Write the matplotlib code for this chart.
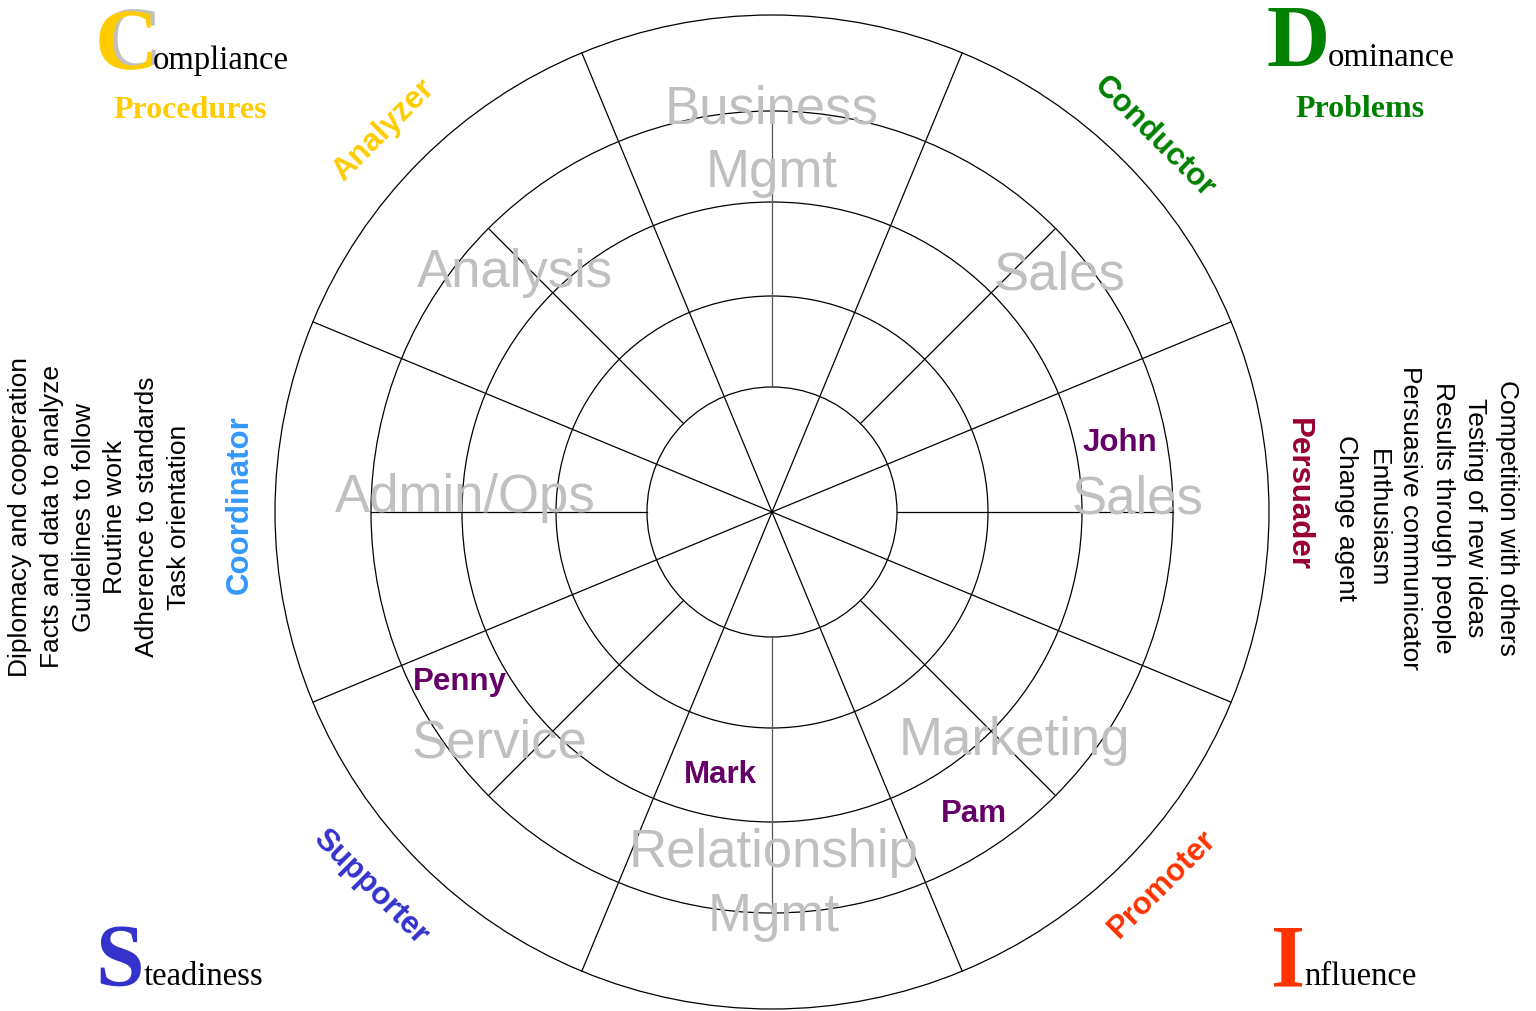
import numpy as np
import matplotlib
matplotlib.use("Agg")
import matplotlib.pyplot as plt
import matplotlib.patheffects as pe
from matplotlib.patches import Circle

# wheel data
ring_radii = [125, 216, 310, 401, 497]
segment_labels = ["Sales", "Sales", "Business\nMgmt", "Analysis", "Admin/Ops",
                  "Service", "Relationship\nMgmt", "Marketing"]
people = ["John", "Penny", "Mark", "Pam"]
styles = ["Analyzer", "Conductor", "Persuader", "Promoter", "Supporter", "Coordinator"]
style_colors = ["#FFCC00", "#008000", "#990033", "#FF3300", "#3333CC", "#3399FF"]
corner_letters = ["C", "D", "S", "I"]
corner_rest = ["ompliance", "ominance", "teadiness", "nfluence"]
corner_colors = ["#FFCC00", "#008000", "#3333CC", "#FF3300"]
corner_sub = ["Procedures", "Problems"]
left_traits = ["Diplomacy and cooperation", "Facts and data to analyze", "Guidelines to follow",
               "Routine work", "Adherence to standards", "Task orientation"]
right_traits = ["Competition with others", "Testing of new ideas", "Results through people",
                "Persuasive communicator", "Enthusiasm", "Change agent"]

# layout (pixels relative to wheel centre, y up)
seg_pos = [(288, 222), (366, -1), (0, 389), (-257, 225), (-307, 0),
           (-272, -246), (2, -355), (242, -243)]
people_pos = [(348, 61), (-312, -178), (-52, -271), (202, -310)]
style_pos = [(-388, 382), (382, 375), (526, 18), (390, -372), (-402, -375), (-532, 7)]
style_rot = [45, -45, -90, 45, -45, 90]
corner_pos = [(-677, 443), (494, 446), (-677, -473), (499, -473)]
corner_rest_x = [-619, 556, -628, 532]
sub_pos = [(-582, 394), (588, 395)]

CX, CY = 772, 512
W, H = 1536, 1011
fig = plt.figure(figsize=(W / 100, H / 100), dpi=100)
ax = fig.add_axes([0, 0, 1, 1])
ax.set_xlim(-CX, W - CX)
ax.set_ylim(CY - H, CY)
ax.axis("off")

sans = "Liberation Sans"
serif = "Liberation Serif"

for r in ring_radii:
    ax.add_patch(Circle((0, 0), r, fill=False, lw=0.9, ec="black"))

# long spokes between segments
for k in range(8):
    a = np.radians(22.5 + 45 * k)
    ax.plot([0, ring_radii[-1] * np.cos(a)], [0, ring_radii[-1] * np.sin(a)], color="black", lw=0.9)
# short spokes in the middle of segments
for k in range(8):
    a = np.radians(45 * k)
    c = "#555555" if k in (2, 6) else "black"
    ax.plot([ring_radii[0] * np.cos(a), ring_radii[3] * np.cos(a)],
            [ring_radii[0] * np.sin(a), ring_radii[3] * np.sin(a)], color=c, lw=0.9)

# segment names
for lab, (x, y) in zip(segment_labels, seg_pos):
    for i, line in enumerate(lab.split("\n")):
        ax.text(x, y - 64 * i, line, fontsize=38, family=sans, color="#C0C0C0",
                ha="center", va="baseline")

for name, (x, y) in zip(people, people_pos):
    ax.text(x, y, name, fontsize=22.5, family=sans, weight="bold", color="#660066",
            ha="center", va="baseline")

for s, (x, y), rot, col in zip(styles, style_pos, style_rot, style_colors):
    ax.text(x, y, s, fontsize=22.5, family=sans, weight="bold", color=col,
            rotation=rot, ha="center", va="center", rotation_mode="anchor")

# corner DISC words
for i in range(4):
    x, y = corner_pos[i]
    t = ax.text(x, y, corner_letters[i], fontsize=63, family=serif, weight="bold",
                color=corner_colors[i], ha="left", va="baseline")
    if i == 0:
        # grey shadow behind the C
        t.set_path_effects([pe.withSimplePatchShadow(offset=(3, 1.5), shadow_rgbFace="#C0C0C0", alpha=1)])
    ax.text(corner_rest_x[i], y, corner_rest[i], fontsize=23.5, family=serif, color="black",
            ha="left", va="baseline")

for t, (x, y), col in zip(corner_sub, sub_pos, corner_colors[:2]):
    ax.text(x, y, t, fontsize=23, family=serif, weight="bold", color=col,
            ha="center", va="baseline")

# trait lists on both sides
for i, t in enumerate(left_traits):
    ax.text(-752 + 31.8 * i, -5, t, fontsize=19, family=sans, color="black",
            rotation=90, ha="center", va="center", rotation_mode="anchor")
for i, t in enumerate(right_traits):
    ax.text(735 - 32.2 * i, -6, t, fontsize=19, family=sans, color="black",
            rotation=-90, ha="center", va="center", rotation_mode="anchor")

fig.savefig("out.png", dpi=100)
